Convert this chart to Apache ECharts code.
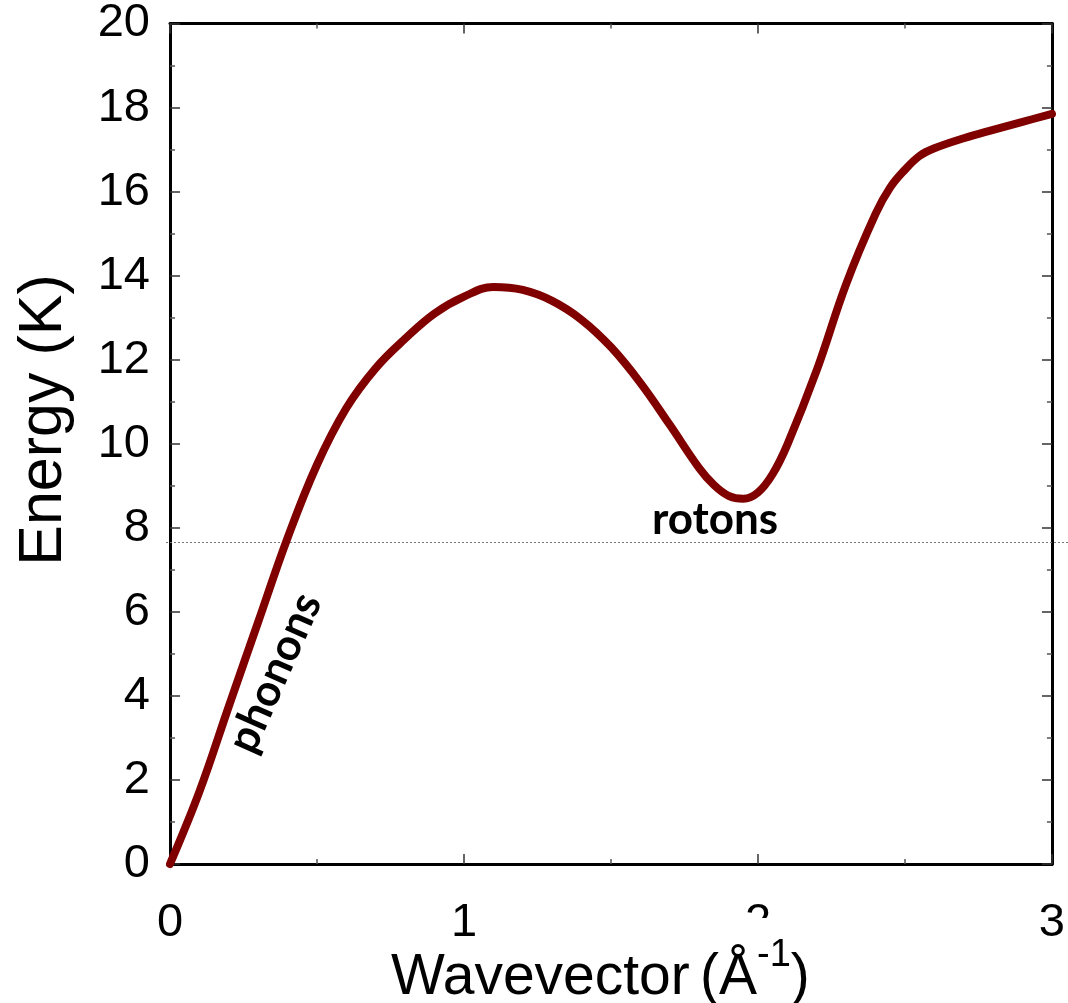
<!DOCTYPE html>
<html>
<head>
<meta charset="utf-8">
<style>
  html, body { margin: 0; padding: 0; background: #fff; }
  #chart { width: 1068px; height: 1003px; }
</style>
<script src="https://cdn.jsdelivr.net/npm/echarts@6/dist/echarts.min.js"></script>
</head>
<body>
<div id="chart"></div>
<script>
// Superfluid helium dispersion curve: energy (K) vs wavevector (1/Å)
const wavevector = [0, 0.1, 0.2, 0.3, 0.4, 0.5, 0.6, 0.7, 0.8, 0.9, 1.0,
  1.1, 1.2, 1.3, 1.4, 1.5, 1.6, 1.7, 1.8, 1.85, 1.9, 1.95, 2.0, 2.05,
  2.1, 2.2, 2.3, 2.4, 2.45, 2.5, 2.55, 2.6, 2.7, 2.8, 2.9, 3.0];
const energy = [0, 1.72, 3.75, 5.76, 7.76, 9.5, 10.85, 11.8, 12.5, 13.1, 13.5,
  13.73, 13.66, 13.4, 12.95, 12.3, 11.45, 10.45, 9.42, 9.02, 8.76, 8.69, 8.84, 9.28,
  9.98, 11.75, 13.8, 15.47, 16.1, 16.52, 16.85, 17.03, 17.27, 17.47, 17.66, 17.85];

const xTicks = [0, 1, 2, 3];
const yTicks = [0, 2, 4, 6, 8, 10, 12, 14, 16, 18, 20];
const referenceEnergy = 7.65;

// annotation labels: [text, wavevector, energy, rotation in degrees]
const annotations = [
  ['phonons', 0.357, 4.55, 66],
  ['rotons', 1.854, 8.19, 0]
];

const chart = echarts.init(document.getElementById('chart'));

const axisLineStyle = { color: '#000', width: 3 };
const tickStyle = { show: true, inside: true, length: 10, lineStyle: { color: '#333', width: 1.5 } };
const minorStyle = { show: true, splitNumber: 2, length: 5, lineStyle: { color: '#555', width: 1.5 } };
const labelFont = { color: '#000', fontSize: 47, fontFamily: 'Liberation Sans, Arial, sans-serif' };

chart.setOption({
  animation: false,
  backgroundColor: '#fff',
  grid: { left: 170, top: 19, right: 16, bottom: 139, containLabel: false },
  xAxis: [{
    type: 'value', min: xTicks[0], max: xTicks[xTicks.length - 1], interval: 1,
    axisLine: { show: true, onZero: false, lineStyle: axisLineStyle },
    axisTick: tickStyle, minorTick: minorStyle,
    splitLine: { show: false },
    axisLabel: Object.assign({ margin: 36 }, labelFont)
  }, {
    type: 'value', position: 'top', min: xTicks[0], max: xTicks[xTicks.length - 1], interval: 1,
    axisLine: { show: true, onZero: false, lineStyle: axisLineStyle },
    axisTick: tickStyle, minorTick: minorStyle,
    splitLine: { show: false }, axisLabel: { show: false }
  }],
  yAxis: [{
    type: 'value', min: yTicks[0], max: yTicks[yTicks.length - 1], interval: 2,
    axisLine: { show: true, onZero: false, lineStyle: axisLineStyle },
    axisTick: tickStyle, minorTick: minorStyle,
    splitLine: { show: false },
    axisLabel: Object.assign({ margin: 20 }, labelFont)
  }, {
    type: 'value', position: 'right', min: yTicks[0], max: yTicks[yTicks.length - 1], interval: 2,
    axisLine: { show: true, onZero: false, lineStyle: axisLineStyle },
    axisTick: tickStyle, minorTick: minorStyle,
    splitLine: { show: false }, axisLabel: { show: false }
  }],
  series: [{
    type: 'line',
    smooth: 0.4,
    showSymbol: false,
    clip: false,
    data: wavevector.map((q, i) => [q, energy[i]]),
    lineStyle: { color: '#800000', width: 8, cap: 'round', join: 'round' },
    z: 5
  }]
});

// reference line, annotations and axis titles placed through the axis scales
const px = (q, e) => chart.convertToPixel({ gridIndex: 0 }, [q, e]);
const refY = px(0, referenceEnergy)[1];
const left = px(0, 0)[0];

const graphics = [{
  type: 'line', z: 1,
  shape: { x1: left - 4, y1: refY, x2: 1068, y2: refY },
  style: { stroke: '#777', lineWidth: 1, lineDash: [2, 2] }
}];

annotations.forEach(([text, q, e, rot]) => {
  const p = px(q, e);
  graphics.push({
    type: 'text', z: 10, x: p[0], y: p[1], rotation: rot * Math.PI / 180,
    style: {
      text, fill: '#000', font: 'bold 44px Lato, "Open Sans", sans-serif',
      textAlign: 'center', textVerticalAlign: 'middle'
    }
  });
});

// y-axis title
graphics.push({
  type: 'text', z: 10, x: 44, y: 420, rotation: Math.PI / 2,
  style: {
    text: 'Energy (K)', fill: '#000', font: '61px "Liberation Sans", Arial, sans-serif',
    textAlign: 'center', textVerticalAlign: 'middle'
  }
});

// x-axis title: the unit sits in its own white box
graphics.push({
  type: 'text', z: 10, x: 391, y: 1007,
  style: {
    text: 'Wavevector', fill: '#000', font: '57px "Liberation Sans", Arial, sans-serif',
    textAlign: 'left', textVerticalAlign: 'bottom'
  }
});
graphics.push({
  type: 'rect', z: 11,
  shape: { x: 689, y: 918, width: 125, height: 90 },
  style: { fill: '#fff' }
});
graphics.push({
  type: 'text', z: 12, x: 700, y: 1007,
  style: {
    text: '{p|(Å}{s|-1}{p|)}', fill: '#000',
    textAlign: 'left', textVerticalAlign: 'bottom',
    rich: {
      p: { font: '57px "Liberation Sans", Arial, sans-serif', fill: '#000', verticalAlign: 'bottom', lineHeight: 70 },
      s: { font: '38px "Liberation Sans", Arial, sans-serif', fill: '#000', verticalAlign: 'top', lineHeight: 40 }
    }
  }
});

chart.setOption({ graphic: graphics });
</script>
</body>
</html>
